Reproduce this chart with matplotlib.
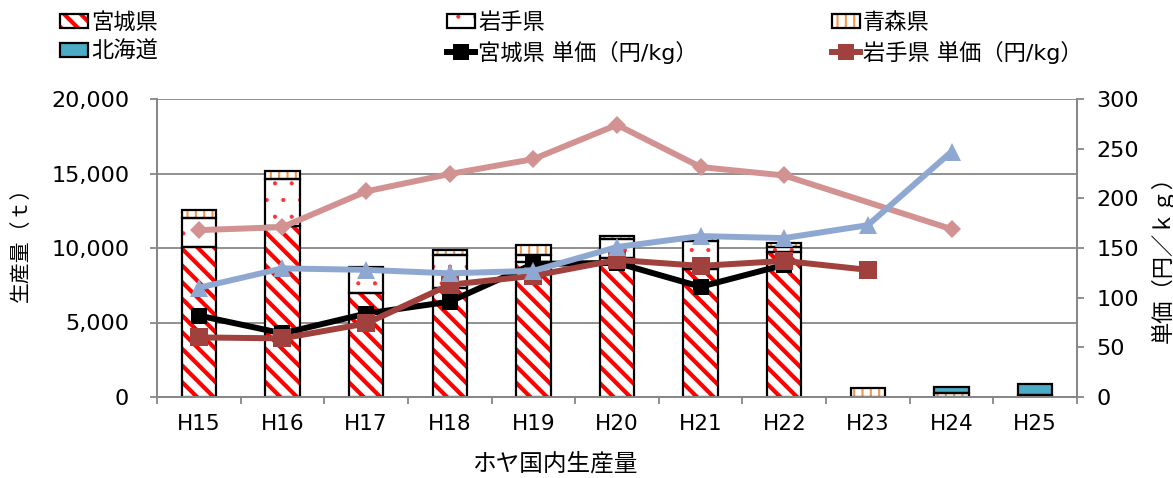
import matplotlib
matplotlib.use("Agg")
import matplotlib.pyplot as plt
from matplotlib.patches import Patch
from matplotlib.lines import Line2D
import numpy as np

plt.rcParams['font.family'] = ['DejaVu Sans', 'Noto Sans CJK JP']

# ----------------------------
# Data
# ----------------------------
years = ["H15", "H16", "H17", "H18", "H19", "H20", "H21", "H22", "H23", "H24", "H25"]

miyagi = [10100, 11500, 6950, 7300, 9050, 9300, 8600, 9700, 0, 0, 0]
iwate = [1900, 3100, 1650, 2250, 480, 1285, 1850, 380, 0, 0, 0]
aomori = [550, 560, 100, 300, 670, 245, 200, 230, 580, 290, 150]
hokkaido = [0, 0, 0, 0, 0, 0, 0, 0, 0, 360, 720]

nan = np.nan
price_miyagi = [82, 64, 84, 96, 134, 135, 111, 133, nan, nan, nan]
price_iwate = [60, 59, 74, 113, 122, 138, 132, 137, 128, nan, nan]
price_pink = [168, 171, 207, 224.5, 239.5, 274, 231.5, 223, nan, 169, nan]
price_blue = [110, 129.5, 128, 124.5, 127, 151, 162, 160, 173, 247, nan]

# ----------------------------
# Styles
# ----------------------------
GRID = "#878787"
bar_styles = [
    ("宮城県", miyagi, "#FF0000", r"\\", 3.0),
    ("岩手県", iwate, "#FF3030", ".", 0.5),
    ("青森県", aomori, "#F79646", "||", 1.5),
    ("北海道", hokkaido, None, None, 0),
]
hatch_lw = {lab: (h if h else 1.0) for lab, _, _, _, h in bar_styles}

fig = plt.figure(figsize=(11.73, 4.78), dpi=100)
ax = fig.add_axes([157 / 1173, 1 - 397 / 478, (1077 - 157) / 1173, (397 - 99) / 478])

x = np.arange(len(years))
width = 0.41
bottom = np.zeros(len(years))
handles = {}

for label, vals, col, hatch, hlw in bar_styles:
    vals = np.array(vals, dtype=float)
    m = vals > 0
    with plt.rc_context({"hatch.linewidth": hatch_lw[label]}):
        if hatch:
            fill = ax.bar(x[m], vals[m], width, bottom=bottom[m], facecolor="white",
                          edgecolor=col, hatch=hatch, linewidth=0, zorder=2)
            proxy = Patch(facecolor="white", edgecolor=col, hatch=hatch, linewidth=0)
        else:
            fill = ax.bar(x[m], vals[m], width, bottom=bottom[m], facecolor="#4BACC6",
                          linewidth=0, zorder=2)
            proxy = Patch(facecolor="#4BACC6", linewidth=0)
        for p in list(fill) + [proxy]:
            if hatch and hasattr(p, "set_hatch_linewidth"):
                p.set_hatch_linewidth(hlw)
    ax.bar(x[m], vals[m], width, bottom=bottom[m], fill=False, edgecolor="black",
           linewidth=1.6, zorder=2.5)
    outline = Patch(fill=False, edgecolor="black", linewidth=1.6)
    handles[label] = (proxy, outline)
    bottom += vals

ax.set_xlim(-0.5, len(years) - 0.5)
ax.set_ylim(0, 20000)
ax.set_yticks(np.arange(0, 20001, 5000))
ax.set_yticklabels([f"{v:,}" for v in range(0, 20001, 5000)])
ax.set_xticks(x)
ax.set_xticklabels(years)
ax.set_xticks(np.arange(-0.5, len(years), 1), minor=True)
ax.grid(axis="y", color=GRID, linewidth=1.3, zorder=0)
ax.set_axisbelow(True)

ax.spines["top"].set_visible(False)
for s in ["left", "right", "bottom"]:
    ax.spines[s].set_color(GRID)
    ax.spines[s].set_linewidth(1.3)

ax.tick_params(axis="x", which="major", length=0, pad=12, labelsize=15.5)
ax.tick_params(axis="x", which="minor", length=5, color=GRID, width=1.3)
ax.tick_params(axis="y", length=5, color=GRID, width=1.3, pad=15, labelsize=16)

ax.set_ylabel("生産量（ｔ）", fontsize=15)
ax.yaxis.set_label_coords(-0.137, 0.53)
fig.text(555 / 1173, 1 - 464 / 478, "ホヤ国内生産量", fontsize=17, ha="center", va="center")

# ----------------------------
# Price lines (right axis)
# ----------------------------
ax2 = ax.twinx()
ax2.set_ylim(0, 300)
ax2.set_yticks(np.arange(0, 301, 50))
ax2.tick_params(axis="y", length=5, color=GRID, width=1.3, pad=9, labelsize=16)
ax2.spines["top"].set_visible(False)
for s in ["left", "right", "bottom"]:
    ax2.spines[s].set_color(GRID)
    ax2.spines[s].set_linewidth(1.3)


def plot_price(vals, color, marker, ms, z):
    vals = np.array(vals, dtype=float)
    m = np.isfinite(vals)
    return ax2.plot(x[m], vals[m], color=color, lw=4.3, marker=marker, markersize=ms,
                    markeredgewidth=0, zorder=z)[0]


plot_price(price_miyagi, "black", "s", 12, 3)
plot_price(price_iwate, "#A0413D", "s", 12.5, 4)
plot_price(price_pink, "#D39292", "D", 9.5, 5)
plot_price(price_blue, "#8FA8D2", "^", 13, 6)

ax2.set_ylabel("単価（円／ｋｇ）", fontsize=16)
ax2.yaxis.set_label_coords(1.08, 0.48)

# ----------------------------
# Legend (three columns)
# ----------------------------
line_h_miyagi = Line2D([], [], color="black", lw=4.3, marker="s", markersize=12, markeredgewidth=0)
line_h_iwate = Line2D([], [], color="#A0413D", lw=4.3, marker="s", markersize=12, markeredgewidth=0)

columns = [
    ([handles["宮城県"], handles["北海道"]], ["宮城県", "北海道"], 60, hatch_lw["宮城県"]),
    ([handles["岩手県"], line_h_miyagi], ["岩手県", "宮城県 単価（円/kg）"], 447, hatch_lw["岩手県"]),
    ([handles["青森県"], line_h_iwate], ["青森県", "岩手県 単価（円/kg）"], 832, hatch_lw["青森県"]),
]
for hs, ls, px, hlw in columns:
    with plt.rc_context({"hatch.linewidth": hlw}):
        leg = fig.legend(hs, ls, loc="upper left", bbox_to_anchor=(px / 1173, 1 - 12 / 478),
                         frameon=False, fontsize=16, handlelength=1.25, handleheight=0.55,
                         handletextpad=0.15, labelspacing=0.35, borderpad=0, borderaxespad=0)
    for art in leg.findobj(matplotlib.patches.Rectangle):
        if art.get_hatch() and hasattr(art, "set_hatch_linewidth"):
            art.set_hatch_linewidth(hlw)

fig.savefig("out.png", dpi=100)
